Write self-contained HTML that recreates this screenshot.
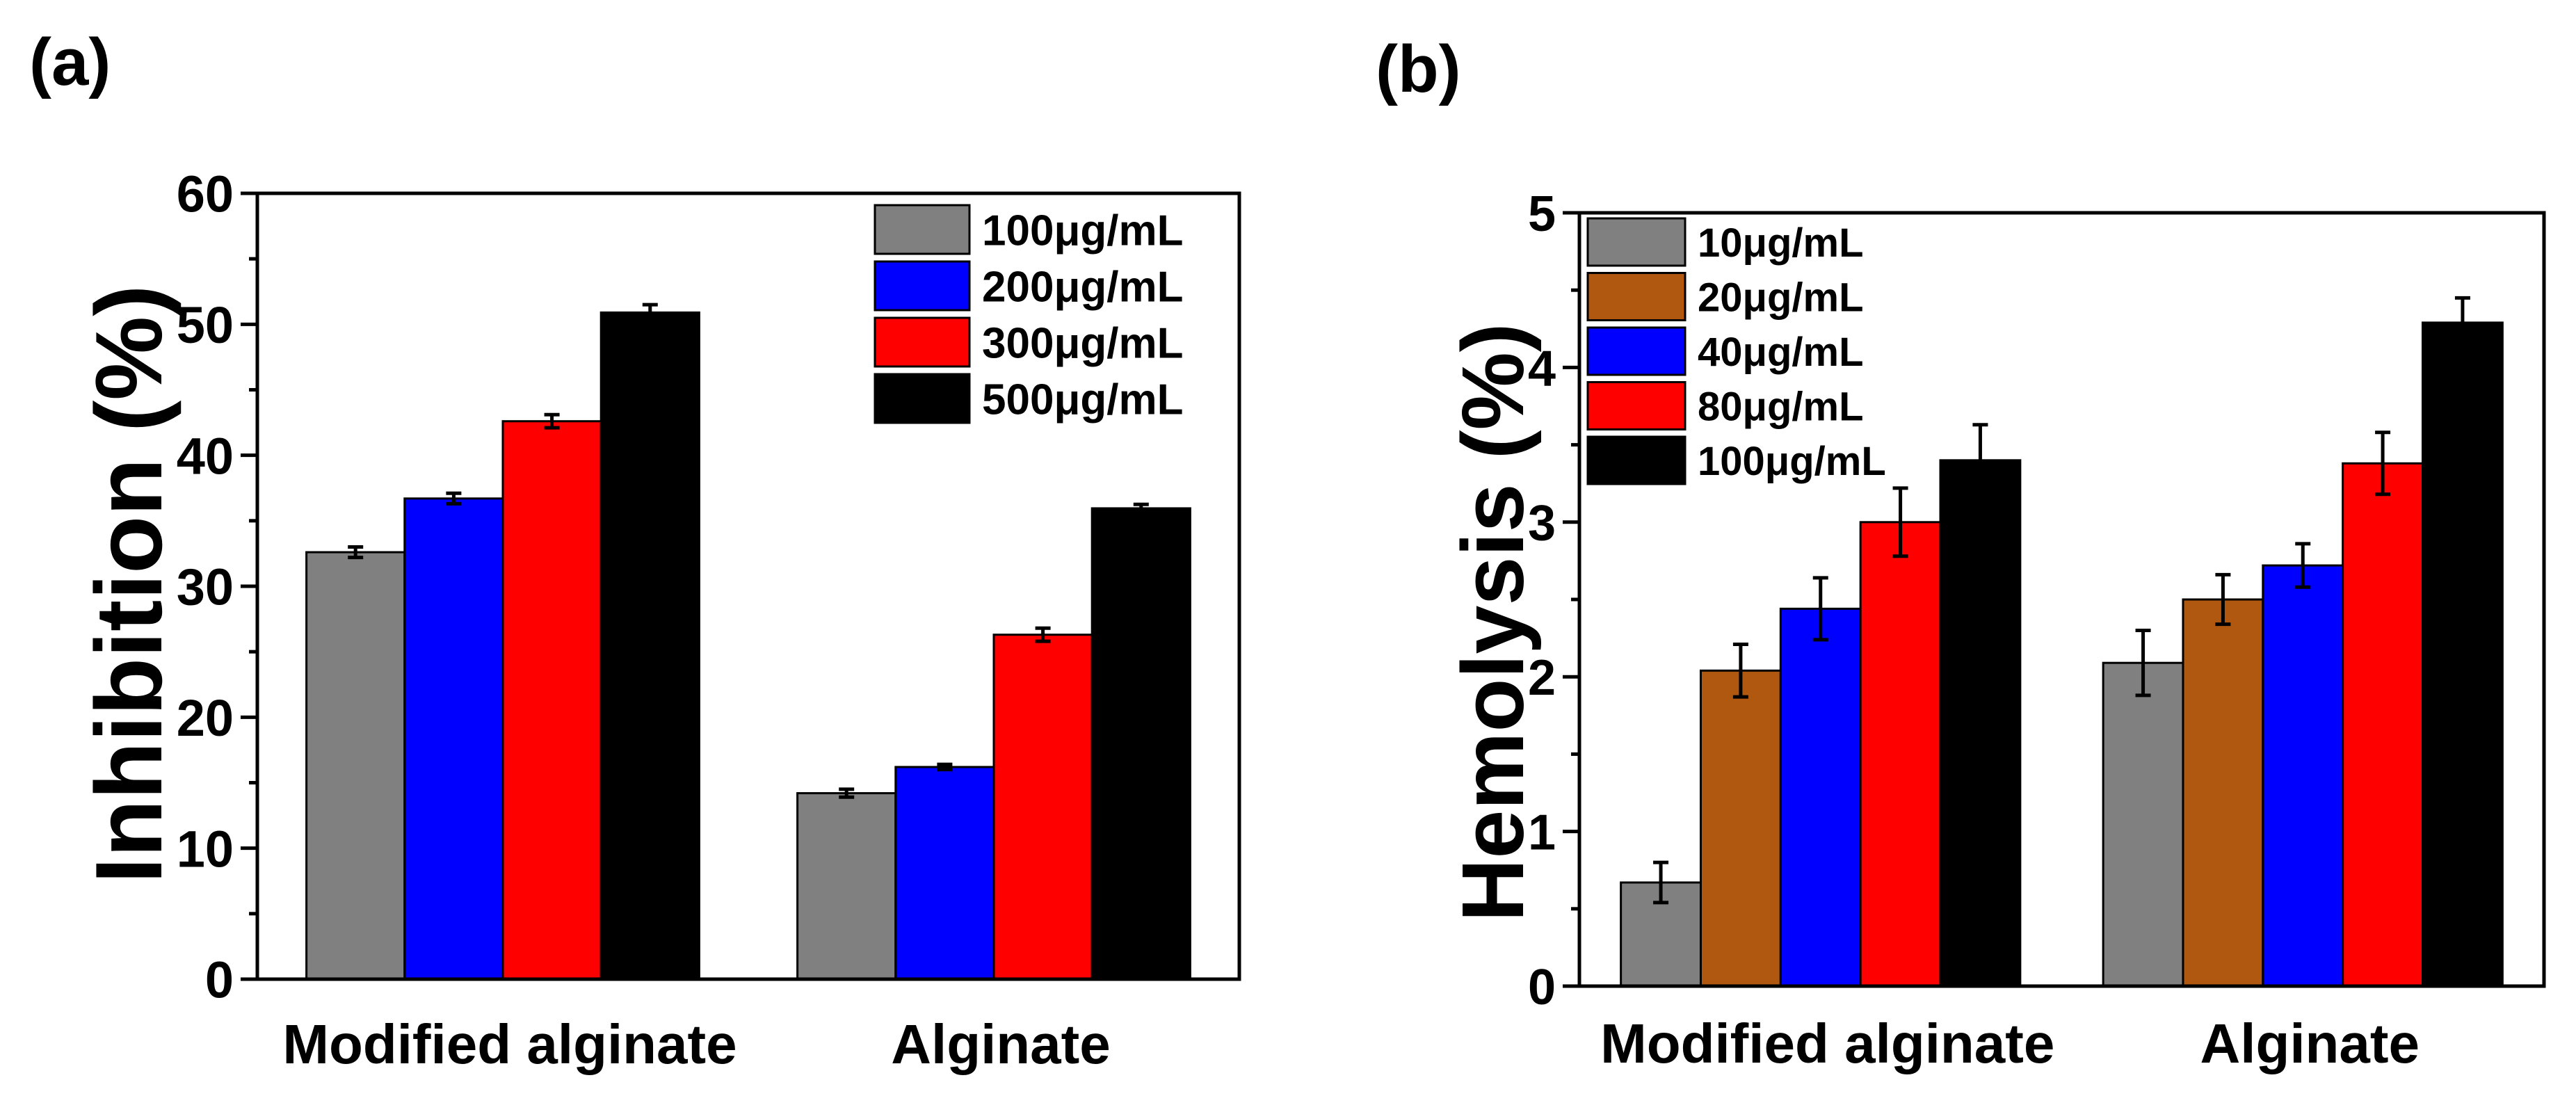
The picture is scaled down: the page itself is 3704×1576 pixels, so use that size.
<!DOCTYPE html>
<html><head><meta charset="utf-8"><style>
html,body{margin:0;padding:0;background:#fff;}
svg{display:block;font-family:"Liberation Sans",Arial,sans-serif;font-weight:bold;}
</style></head><body>
<svg id="fig" width="3704" height="1576" viewBox="0 0 3704 1576">
<g id="chartA"></g>
<g id="chartB"></g>
</svg>
<script>
const categories = ["Modified alginate", "Alginate"];
// Chart A
const aSeries = ["100μg/mL", "200μg/mL", "300μg/mL", "500μg/mL"];
const aColors = ["#808080", "#0000ff", "#ff0000", "#000000"];
const aValues = [[32.6, 14.2], [36.7, 16.2], [42.6, 26.3], [50.9, 35.95]];
const aErrors = [[0.4, 0.3], [0.4, 0.2], [0.5, 0.5], [0.6, 0.3]];
const aTicks = [0, 10, 20, 30, 40, 50, 60];
// Chart B
const bSeries = ["10μg/mL", "20μg/mL", "40μg/mL", "80μg/mL", "100μg/mL"];
const bColors = ["#808080", "#b05810", "#0000ff", "#ff0000", "#000000"];
const bValues = [[0.67, 2.09], [2.04, 2.50], [2.44, 2.72], [3.0, 3.38], [3.40, 4.29]];
const bErrors = [[0.13, 0.21], [0.17, 0.16], [0.2, 0.14], [0.22, 0.2], [0.23, 0.16]];
const bTicks = [0, 1, 2, 3, 4, 5];

const NS = "http://www.w3.org/2000/svg";
function mk(parent, tag, attrs){
  const e = document.createElementNS(NS, tag);
  for (const k in attrs) e.setAttribute(k, attrs[k]);
  parent.appendChild(e);
  return e;
}

function drawChart(g, cfg, series, colors, values, errors, ticks){
  const {L, R, T, B, ymax, minorStep, groupFrac, tickFont, catFont, catY, title, titleX, titleY, titleFont, panel, panelX, panelY, legend} = cfg;
  const W = R - L;
  const y = v => B - (v / ymax) * (B - T);
  const xc = i => L + W * (0.25 + 0.5 * i);
  const n = series.length;
  const gw = W * groupFrac, bw = gw / n;
  for (let s = 0; s < n; s++){
    for (let c = 0; c < categories.length; c++){
      const x0 = xc(c) - gw / 2 + s * bw;
      const v = values[s][c];
      const r = mk(g, "rect", {x: x0, y: y(v), width: bw, height: B - y(v), fill: colors[s], stroke: "#000", "stroke-width": 3});
      
      
      const cx = x0 + bw / 2, e = errors[s][c];
      const eb = mk(g, "path", {d: `M${cx},${y(v + e)}V${y(v - e)}M${cx - 11},${y(v + e)}H${cx + 11}M${cx - 11},${y(v - e)}H${cx + 11}`, stroke: "#000", "stroke-width": 5, fill: "none"});
      
      
    }
  }
  const fr = mk(g, "rect", {x: L, y: T, width: W, height: B - T, fill: "none", stroke: "#000", "stroke-width": 5});
  
  
  for (let v = 0; v <= ymax + 1e-9; v += minorStep){
    const major = ticks.some(t => Math.abs(t - v) < 1e-9);
    const tk = mk(g, "line", {x1: L - (major ? 24 : 12), x2: L, y1: y(v), y2: y(v), stroke: "#000", "stroke-width": 5});
    
    
  }
  ticks.forEach(t => {
    const tl = mk(g, "text", {x: L - 34, y: y(t) + tickFont * 0.36, "text-anchor": "end", "font-size": tickFont});
    tl.textContent = t;
    
    
  });
  categories.forEach((c, i) => {
    const t = mk(g, "text", {x: xc(i) + 10, y: catY, "text-anchor": "middle", "font-size": catFont});
    t.textContent = c;
    
    
  });
  const tt = mk(g, "text", {x: 0, y: 0, "text-anchor": "middle", "font-size": titleFont, transform: `translate(${titleX},${titleY}) rotate(-90)`});
  tt.textContent = title;
  
  
  const pl = mk(g, "text", {x: panelX, y: panelY, "font-size": 96});
  pl.textContent = panel;
  
  
  series.forEach((s, i) => {
    const yy = legend.y + i * legend.pitch;
    const sw = mk(g, "rect", {x: legend.x, y: yy, width: legend.w, height: legend.h, fill: colors[i], stroke: "#000", "stroke-width": 3});
    
    
    const lt = mk(g, "text", {x: legend.x + legend.w + 18, y: yy + legend.h / 2 + legend.font * 0.36, "font-size": legend.font});
    lt.textContent = s;
    
    
  });
}

drawChart(document.getElementById('chartA'), {
  L: 370, R: 1782, T: 278, B: 1408, ymax: 60, minorStep: 5, groupFrac: 0.4,
  tickFont: 74, catFont: 80, catY: 1529, title: "Inhibition (%)", titleX: 232, titleY: 840, titleFont: 136,
  panel: "(a)", panelX: 42, panelY: 122,
  legend: {x: 1258, y: 295, w: 136, h: 70, pitch: 81, font: 62}
}, aSeries, aColors, aValues, aErrors, aTicks);

drawChart(document.getElementById('chartB'), {
  L: 2271, R: 3658, T: 306, B: 1418, ymax: 5, minorStep: 0.5, groupFrac: 0.414,
  tickFont: 72, catFont: 80, catY: 1528, title: "Hemolysis (%)", titleX: 2190, titleY: 895, titleFont: 126,
  panel: "(b)", panelX: 1978, panelY: 132,
  legend: {x: 2283, y: 314, w: 140, h: 68, pitch: 78.5, font: 58}
}, bSeries, bColors, bValues, bErrors, bTicks);
</script>
</body></html>
